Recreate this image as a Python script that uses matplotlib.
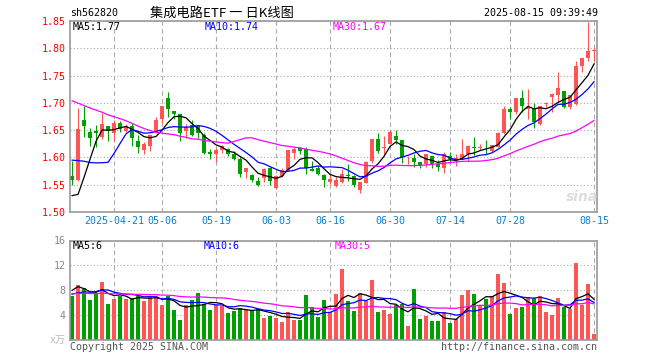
import numpy as np
import matplotlib.pyplot as plt

plt.rcParams['font.family'] = ['DejaVu Sans Mono', 'Noto Sans CJK SC']
plt.rcParams['font.size'] = 7.2

# daily bars, 2025-04-10 .. 2025-08-15
open_ = [1.566, 1.558, 1.668, 1.646, 1.648, 1.637, 1.657, 1.645, 1.663, 1.649,
         1.657, 1.630, 1.614, 1.621, 1.648, 1.670, 1.709, 1.685, 1.679, 1.649,
         1.659, 1.657, 1.641, 1.610, 1.607, 1.613, 1.615, 1.606, 1.598, 1.573,
         1.568, 1.556, 1.562, 1.580, 1.544, 1.566, 1.577, 1.608, 1.618, 1.615,
         1.578, 1.581, 1.567, 1.555, 1.548, 1.555, 1.567, 1.566, 1.541, 1.553,
         1.593, 1.633, 1.618, 1.624, 1.640, 1.632, 1.600, 1.599, 1.592, 1.588,
         1.603, 1.588, 1.580, 1.603, 1.598, 1.598, 1.607, 1.620, 1.617, 1.616,
         1.612, 1.619, 1.645, 1.688, 1.683, 1.709, 1.689, 1.688, 1.662, 1.698,
         1.710, 1.715, 1.721, 1.692, 1.698, 1.767, 1.783, 1.795]
high = [1.594, 1.690, 1.694, 1.654, 1.660, 1.681, 1.658, 1.668, 1.667, 1.662,
        1.664, 1.642, 1.628, 1.642, 1.674, 1.695, 1.720, 1.685, 1.679, 1.662,
        1.668, 1.658, 1.644, 1.615, 1.618, 1.622, 1.617, 1.611, 1.600, 1.580,
        1.569, 1.565, 1.580, 1.583, 1.567, 1.580, 1.613, 1.620, 1.619, 1.619,
        1.593, 1.584, 1.569, 1.569, 1.564, 1.578, 1.588, 1.567, 1.555, 1.593,
        1.633, 1.644, 1.640, 1.650, 1.650, 1.632, 1.603, 1.607, 1.592, 1.606,
        1.603, 1.596, 1.610, 1.610, 1.606, 1.634, 1.622, 1.637, 1.624, 1.632,
        1.622, 1.646, 1.695, 1.692, 1.709, 1.724, 1.725, 1.700, 1.695, 1.702,
        1.718, 1.756, 1.721, 1.715, 1.776, 1.783, 1.849, 1.803]
low = [1.550, 1.556, 1.637, 1.621, 1.619, 1.633, 1.631, 1.630, 1.647, 1.646,
       1.621, 1.608, 1.606, 1.611, 1.644, 1.664, 1.674, 1.670, 1.630, 1.636,
       1.639, 1.636, 1.607, 1.598, 1.591, 1.609, 1.602, 1.595, 1.565, 1.562,
       1.555, 1.547, 1.555, 1.549, 1.543, 1.564, 1.576, 1.598, 1.607, 1.570,
       1.575, 1.567, 1.546, 1.551, 1.546, 1.553, 1.557, 1.546, 1.535, 1.553,
       1.590, 1.609, 1.604, 1.624, 1.624, 1.590, 1.588, 1.583, 1.580, 1.583,
       1.580, 1.575, 1.572, 1.590, 1.584, 1.597, 1.593, 1.604, 1.613, 1.606,
       1.610, 1.619, 1.643, 1.670, 1.679, 1.683, 1.671, 1.654, 1.659, 1.693,
       1.684, 1.701, 1.690, 1.689, 1.696, 1.757, 1.776, 1.776]
close = [1.559, 1.652, 1.658, 1.636, 1.644, 1.662, 1.649, 1.664, 1.652, 1.657,
         1.636, 1.620, 1.625, 1.642, 1.669, 1.695, 1.689, 1.679, 1.645, 1.655,
         1.641, 1.644, 1.609, 1.607, 1.614, 1.621, 1.606, 1.598, 1.570, 1.580,
         1.558, 1.549, 1.579, 1.556, 1.566, 1.577, 1.613, 1.615, 1.612, 1.580,
         1.576, 1.570, 1.558, 1.561, 1.559, 1.569, 1.566, 1.550, 1.555, 1.591,
         1.633, 1.612, 1.619, 1.646, 1.632, 1.601, 1.601, 1.592, 1.586, 1.606,
         1.588, 1.582, 1.606, 1.597, 1.599, 1.607, 1.621, 1.617, 1.618, 1.615,
         1.622, 1.645, 1.688, 1.684, 1.709, 1.695, 1.692, 1.665, 1.695, 1.699,
         1.717, 1.728, 1.692, 1.715, 1.767, 1.783, 1.795, 1.796]
volume = [7.09, 8.8, 8.43, 6.4, 7.63, 9.28, 5.76, 6.56, 7.09, 6.56,
          6.83, 7.04, 6.24, 6.93, 7.04, 5.6, 7.15, 4.8, 3.2, 5.7,
          6.4, 7.52, 5.76, 4.8, 5.55, 5.49, 4.32, 4.64, 5.07, 4.9,
          4.8, 4.96, 3.57, 3.84, 3.57, 2.93, 4.48, 3.2, 3.2, 7.2,
          5.33, 3.73, 6.4, 4.43, 7.36, 11.47, 6.24, 4.64, 7.52, 6.24,
          9.6, 4.48, 4.8, 4.16, 5.7, 5.76, 2.24, 8.16, 3.36, 3.84,
          3.04, 3.04, 4.43, 2.72, 3.36, 7.2, 8.0, 7.36, 5.6, 6.67,
          7.04, 10.56, 9.17, 4.16, 5.12, 5.28, 6.93, 6.83, 7.04, 4.48,
          4.0, 6.72, 5.28, 4.96, 12.32, 5.6, 8.96, 0.96]

# 29 sessions before the window (only needed to start the moving averages)
pre_close = [1.78, 1.79, 1.77, 1.76, 1.78, 1.79, 1.77, 1.76, 1.77, 1.78,
             1.77, 1.76, 1.75, 1.77, 1.74, 1.73, 1.72, 1.73, 1.72, 1.721,
             1.66, 1.67, 1.66, 1.65, 1.66, 1.64, 1.50, 1.47, 1.481]
pre_volume = [8.2, 7.9, 7.6, 8.0, 7.4, 7.7, 7.3, 7.8, 7.5, 7.6,
              7.2, 7.4, 7.1, 7.6, 7.3, 7.5, 7.2, 7.3, 7.4, 7.5,
              6.5, 7.0, 6.8, 6.6, 6.7, 5.91, 10.0, 9.0, 8.0]

tick_idx = [7, 15, 24, 34, 43, 53, 63, 73, 87]
tick_labels = ['2025-04-21', '05-06', '05-19', '06-03', '06-16',
               '06-30', '07-14', '07-28', '08-15']

RED = '#ff5555'
GREEN = '#00a000'
GRID = '#aaaaaa'
FRAME = '#999999'


def ma(pre, vals, n):
    s = np.array(pre + vals)
    m = np.convolve(s, np.ones(n) / n, 'valid')
    return m[-len(vals):]


o = np.array(open_)
h = np.array(high)
l = np.array(low)
c = np.array(close)
v = np.array(volume)
x = np.arange(len(c))
col = np.where(c >= o, RED, GREEN)

W, H = 660, 360
fig = plt.figure(figsize=(6.6, 3.6), dpi=100)
ax = fig.add_axes([70 / W, 1 - 212 / H, 527 / W, 191 / H])
axv = fig.add_axes([70 / W, 1 - 340 / H, 527 / W, 99.5 / H])

# price panel
ax.vlines(x, l, h, colors=col, lw=0.8, zorder=2)
ax.bar(x, np.maximum(np.abs(c - o), 0.0012), bottom=np.minimum(o, c),
       width=0.8, color=col, lw=0, zorder=2)
ma_cols = ['black', '#0000ff', '#ff00ff']
pm = [ma(pre_close, close, n) for n in (5, 10, 30)]
for m, cc in zip(pm, ma_cols):
    ax.plot(x, m, color=cc, lw=0.9, zorder=3)

ax.set_xlim(-0.35, 87.5)
ax.set_ylim(1.50, 1.85)
ax.set_yticks(np.arange(1.50, 1.851, 0.05))
ax.set_yticklabels(['%.2f' % t for t in np.arange(1.50, 1.851, 0.05)], color='red')
ax.set_xticks(tick_idx)
ax.set_xticklabels(tick_labels, color='#0a7fd0')
ax.tick_params(length=0, pad=3)
ax.grid(axis='y', ls=(0, (1, 2)), color=GRID, lw=0.8)
ax.grid(axis='x', ls=(0, (4, 3)), color=GRID, lw=0.8)
ax.set_axisbelow(True)

# volume panel
axv.bar(x, v, width=0.8, color=col, lw=0, zorder=2)
vm = [ma(pre_volume, volume, n) for n in (5, 10, 30)]
for m, cc in zip(vm, ma_cols):
    axv.plot(x, m, color=cc, lw=0.9, zorder=3)
axv.set_xlim(-0.35, 87.5)
axv.set_ylim(0, 16)
axv.set_yticks([4, 8, 12, 16])
axv.set_yticklabels(['4', '8', '12', '16'], color='#888888')
axv.set_xticks(tick_idx)
axv.set_xticklabels([])
axv.tick_params(length=0, pad=3)
axv.grid(axis='y', ls=(0, (1, 2)), color=GRID, lw=0.8)
axv.grid(axis='x', ls=(0, (4, 3)), color=GRID, lw=0.8)
axv.set_axisbelow(True)

for a in (ax, axv):
    for s in a.spines.values():
        s.set_color(FRAME)
        s.set_linewidth(1.2)


def px(xp, yp, s, **kw):
    fig.text(xp / W, 1 - yp / H, s, va='center', **kw)


px(70, 13, 'sh562820')
px(150, 13, '集成电路ETF 一 日K线图', fontsize=9.5, family=['Noto Sans CJK SC'])
px(598, 13, '2025-08-15 09:39:49', ha='right')

px(73, 27, 'MA5:%.2f' % pm[0][-1], color='black')
px(205, 27, 'MA10:%.2f' % pm[1][-1], color='#0000ff')
px(333, 27, 'MA30:%.2f' % pm[2][-1], color='#ff00ff')

px(73, 246, 'MA5:%d' % int(vm[0][-1]), color='black')
px(204, 246, 'MA10:%d' % int(vm[1][-1]), color='#0000ff')
px(335, 246, 'MA30:%d' % int(vm[2][-1]), color='#ff00ff')

px(66, 340, 'x万', ha='right', color='#bbbbbb', family=['DejaVu Sans Mono', 'Noto Sans CJK SC'])
px(70, 347, 'Copyright 2025 SINA.COM', color='#555555')
px(597, 347, 'http://finance.sina.com.cn', ha='right', color='#555555')
px(582, 197, 'sina', ha='center', fontsize=10, fontweight='bold', style='italic',
   color='#dddddd', family='DejaVu Sans')

fig.savefig('out.png', dpi=100, facecolor='white')
